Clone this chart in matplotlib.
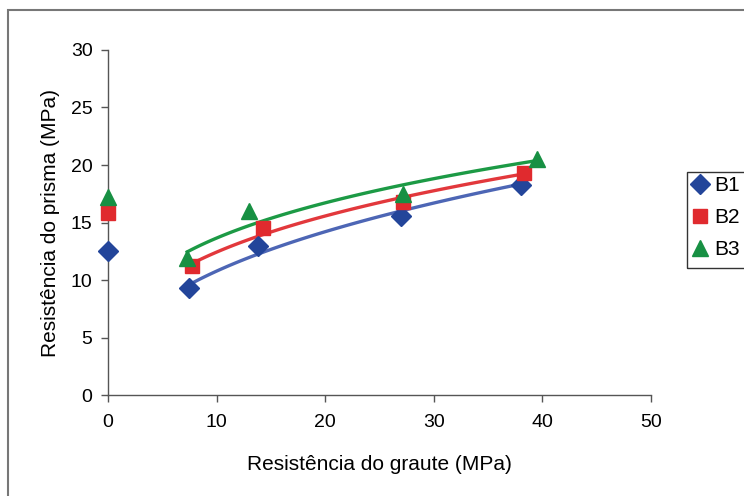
import numpy as np
import matplotlib
matplotlib.use("Agg")
import matplotlib.pyplot as plt
from matplotlib.patches import Rectangle

plt.rcParams["font.family"] = ["Liberation Sans", "DejaVu Sans"]

# Grout strength (MPa) and prism strength (MPa) per block type
b1_x = [0.0, 7.5, 13.8, 27.0, 38.0]
b1_y = [12.5, 9.3, 13.0, 15.6, 18.3]
b2_x = [0.0, 7.7, 14.3, 27.2, 38.3]
b2_y = [15.8, 11.2, 14.5, 16.8, 19.3]
b3_x = [0.0, 7.3, 13.0, 27.2, 39.5]
b3_y = [17.2, 11.9, 16.0, 17.5, 20.5]

series_names = ["B1", "B2", "B3"]
x_ticks = [0, 10, 20, 30, 40, 50]
y_ticks = [0, 5, 10, 15, 20, 25, 30]

marker_colors = ["#23459a", "#e02a2e", "#179043"]
line_colors = ["#4d66b5", "#e2383c", "#1c9a45"]
markers = ["D", "s", "^"]
msizes = [10, 10.5, 12]

W, H = 744, 496
fig = plt.figure(figsize=(W / 100, H / 100), dpi=100)
ax = fig.add_axes([0.145, 0.2036, 0.730, 0.6956])

series = [(b1_x, b1_y), (b2_x, b2_y), (b3_x, b3_y)]
handles = []
for (xs, ys), name, mc, lc, mk, ms in zip(series, series_names, marker_colors,
                                          line_colors, markers, msizes):
    xs = np.asarray(xs)
    ys = np.asarray(ys)
    # power-law trend line fitted on the non-zero grout strengths
    m = xs > 0
    b, lna = np.polyfit(np.log(xs[m]), np.log(ys[m]), 1)
    xf = np.linspace(xs[m].min(), xs[m].max(), 100)
    ax.plot(xf, np.exp(lna) * xf ** b, color=lc, lw=2.4, zorder=2)
    h, = ax.plot(xs, ys, linestyle="none", marker=mk, ms=ms, color=mc,
                 markeredgecolor=mc, zorder=3, clip_on=False, label=name)
    handles.append(h)

ax.set_xlim(0, 50)
ax.set_ylim(0, 30)
ax.set_xticks(x_ticks)
ax.set_yticks(y_ticks)
for s in ["top", "right"]:
    ax.spines[s].set_visible(False)
for s in ["left", "bottom"]:
    ax.spines[s].set_color("#555555")
    ax.spines[s].set_linewidth(1.0)
ax.tick_params(direction="out", length=5, width=1, color="#555555",
               labelsize=14)
ax.tick_params(axis="x", pad=9)
ax.tick_params(axis="y", pad=6)
ax.set_xlabel("Resistência do graute (MPa)", fontsize=15, labelpad=17)
ax.set_ylabel("Resistência do prisma (MPa)", fontsize=15, labelpad=8)

leg = fig.legend(handles=handles, labels=series_names, loc="upper left",
                 bbox_to_anchor=(687 / W, 1 - 172 / H),
                 frameon=False, fontsize=15,
                 handlelength=0.8, handletextpad=0.3, borderpad=0.2,
                 labelspacing=0.62, borderaxespad=0)

# legend box, running past the right edge of the canvas
fig.patches.append(Rectangle((687 / W, 1 - 268 / H), 0.2, 96 / H,
                             transform=fig.transFigure, fill=False,
                             edgecolor="#333333", lw=1.0, zorder=5))

# outer chart-area frame
fig.patches.append(Rectangle((8 / W, -0.05), 1.1, 1 - 10 / H + 0.05,
                             transform=fig.transFigure, fill=False,
                             edgecolor="#777777", lw=1.5, zorder=0))

fig.savefig("out.png", dpi=100)
